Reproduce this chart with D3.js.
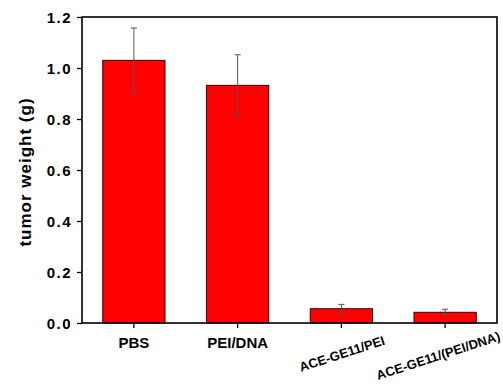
<!DOCTYPE html>
<html>
<head>
<meta charset="utf-8">
<script src="https://cdn.jsdelivr.net/npm/d3@7"></script>
<style>
  html, body { margin: 0; padding: 0; background: #fff; }
  svg { display: block; font-family: "Liberation Sans", Arial, sans-serif; }
</style>
</head>
<body>
<svg id="chart" width="503" height="387"></svg>
<script>
// Tumor weight per treatment group (mean ± error)
const groups = ["PBS", "PEI/DNA", "ACE-GE11/PEI", "ACE-GE11/(PEI/DNA)"];
const weights = [1.030, 0.932, 0.056, 0.042];
const errors = [0.127, 0.120, 0.017, 0.012];
const yTicks = [0.0, 0.2, 0.4, 0.6, 0.8, 1.0, 1.2];
const rotatedGroups = ["ACE-GE11/PEI", "ACE-GE11/(PEI/DNA)"];

const W = 503, H = 387;
const margin = { left: 82, right: 6, top: 17, bottom: 64 };
const svg = d3.select("#chart");

const x = d3.scaleBand()
  .domain(groups)
  .range([margin.left, W - margin.right])
  .paddingInner(0.4)
  .paddingOuter(0.2);

const y = d3.scaleLinear()
  .domain([0, 1.2])
  .range([H - margin.bottom, margin.top]);

// Bars
svg.append("g").selectAll("rect")
  .data(groups)
  .join("rect")
  .attr("x", d => x(d))
  .attr("y", (d, i) => y(weights[i]))
  .attr("width", x.bandwidth())
  .attr("height", (d, i) => y(0) - y(weights[i]))
  .attr("fill", "#ff0000")
  .attr("stroke", "#3a0000")
  .attr("stroke-width", 1);

// Error bars
const eb = svg.append("g").attr("stroke", "#555").attr("stroke-width", 1);
groups.forEach((g, i) => {
  const cx = x(g) + x.bandwidth() / 2;
  const top = y(weights[i] + errors[i]);
  const bot = y(weights[i] - errors[i]);
  eb.append("line").attr("x1", cx).attr("x2", cx).attr("y1", top).attr("y2", bot);
  eb.append("line").attr("x1", cx - 3).attr("x2", cx + 3).attr("y1", top).attr("y2", top);
  eb.append("line").attr("x1", cx - 3).attr("x2", cx + 3).attr("y1", bot).attr("y2", bot);
});

// Y axis
const yAxis = svg.append("g")
  .attr("transform", `translate(${margin.left},0)`)
  .call(d3.axisLeft(y).tickValues(yTicks).tickFormat(d3.format(".1f")).tickSize(5).tickPadding(5));
yAxis.select(".domain").remove();
yAxis.selectAll(".tick line").attr("stroke", "#000").attr("stroke-width", 1.3);
yAxis.selectAll(".tick text")
  .attr("fill", "#000")
  .style("font-size", "15px")
  .style("font-weight", "bold")
  .style("letter-spacing", "1.5px")
  .attr("dy", "0.36em");

// X axis
const xAxis = svg.append("g")
  .attr("transform", `translate(0,${y(0)})`)
  .call(d3.axisBottom(x).tickSize(5).tickFormat(""));
xAxis.select(".domain").remove();
xAxis.selectAll(".tick line").attr("stroke", "#000").attr("stroke-width", 1.3);

// Category labels: the two long names are slanted
const labels = svg.append("g")
  .style("font-weight", "bold")
  .attr("fill", "#000");
groups.forEach(g => {
  const cx = x(g) + x.bandwidth() / 2;
  if (rotatedGroups.includes(g)) {
    const t = labels.append("text")
      .attr("text-anchor", "middle")
      .style("font-size", "13px")
      .attr("transform", `translate(${cx + 2},${y(0) + 35}) rotate(-18)`)
      .text(g);
    // keep the slanted label inside the canvas
    const b = t.node().getBoundingClientRect();
    const over = b.right - (W - 1);
    if (over > 0) {
      t.attr("transform", `translate(${cx + 2 - over},${y(0) + 37}) rotate(-18)`);
    }
  } else {
    labels.append("text")
      .attr("x", cx)
      .attr("y", y(0) + 25)
      .attr("text-anchor", "middle")
      .style("font-size", "15px")
      .text(g);
  }
});

// Plot frame
svg.append("rect")
  .attr("x", margin.left)
  .attr("y", margin.top)
  .attr("width", W - margin.right - margin.left)
  .attr("height", y(0) - margin.top)
  .attr("fill", "none")
  .attr("stroke", "#000")
  .attr("stroke-width", 1.6);

// Y axis title
svg.append("text")
  .attr("transform", `translate(31,${(margin.top + y(0)) / 2 + 2}) rotate(-90)`)
  .attr("text-anchor", "middle")
  .style("font-size", "17px")
  .style("font-weight", "bold")
  .style("letter-spacing", "1px")
  .text("tumor weight (g)");
</script>
</body>
</html>
